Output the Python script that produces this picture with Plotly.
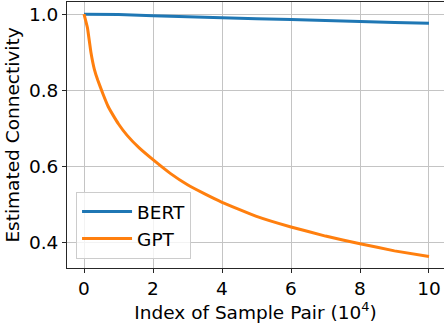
import plotly.graph_objects as go

bert_x = [0, 1, 2, 3, 4, 5, 6, 7, 8, 9, 10]
bert_y = [1.0, 0.999, 0.996, 0.993, 0.990, 0.988, 0.986, 0.983, 0.980, 0.978, 0.976]

gpt_x = [0, 0.1, 0.2, 0.3, 0.4, 0.55, 0.7, 0.85, 1.0, 1.25, 1.6, 2, 2.5, 3, 3.5, 4, 5, 6, 7, 8, 9, 10]
gpt_y = [1.0, 0.964, 0.90, 0.855, 0.826, 0.79, 0.757, 0.733, 0.711, 0.681, 0.648, 0.617, 0.581, 0.551, 0.527, 0.505, 0.468, 0.440, 0.416, 0.396, 0.377, 0.362]

x_ticks = [0, 2, 4, 6, 8, 10]
y_ticks = [0.4, 0.6, 0.8, 1.0]

FONT = "DejaVu Sans"
FS = 18.5

fig = go.Figure()
fig.add_trace(go.Scatter(x=bert_x, y=bert_y, mode="lines", name="BERT",
                         line=dict(color="#1f77b4", width=3)))
fig.add_trace(go.Scatter(x=gpt_x, y=gpt_y, mode="lines", name="GPT",
                         line=dict(color="#ff7f0e", width=3, shape="spline", smoothing=0.3)))

fig.update_layout(
    width=444, height=326,
    margin=dict(l=67, r=0, t=2, b=58, autoexpand=False),
    paper_bgcolor="white", plot_bgcolor="white",
    font=dict(family=FONT, size=FS, color="#000"),
    showlegend=True,
    legend=dict(x=0.024, y=0.034, xanchor="left", yanchor="bottom",
                bgcolor="rgba(255,255,255,0.8)", bordercolor="#cccccc", borderwidth=1,
                font=dict(family=FONT, size=FS), tracegroupgap=0, itemwidth=50),
)
fig.update_xaxes(
    range=[-0.493, 10.435], tickvals=x_ticks, ticktext=[str(v) for v in x_ticks],
    showgrid=True, gridcolor="#c4c4c4", gridwidth=1,
    showline=True, linecolor="#262626", linewidth=1, mirror=True,
    ticks="outside", ticklen=4, tickcolor="#262626", zeroline=False,
    tickfont=dict(family=FONT, size=FS), automargin=False,
    title=dict(text="Index of Sample Pair (10<sup>4</sup>)", font=dict(family=FONT, size=FS), standoff=4),
)
fig.update_yaxes(
    range=[0.332, 1.032], tickvals=y_ticks, ticktext=[f"{v:.1f}" for v in y_ticks],
    showgrid=True, gridcolor="#c4c4c4", gridwidth=1,
    showline=True, linecolor="#262626", linewidth=1, mirror=False,
    ticks="outside", ticklen=4, tickcolor="#262626", zeroline=False,
    tickfont=dict(family=FONT, size=FS), automargin=False,
    title=dict(text="Estimated Connectivity", font=dict(family=FONT, size=FS), standoff=4),
)

fig.write_html("out.html", config={"displayModeBar": False},
               post_script="document.body.style.margin='0';document.body.style.padding='0';")
